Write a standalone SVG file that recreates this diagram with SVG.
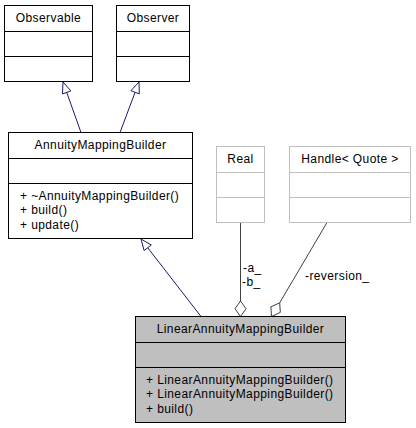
<svg xmlns="http://www.w3.org/2000/svg" width="416" height="428" viewBox="0 0 416 428">
<style>
text{font-family:"Liberation Sans",Arial,sans-serif;font-size:12px;letter-spacing:0.4px;fill:#000}
.t{text-anchor:middle}
.box{fill:#fff;stroke:#000;stroke-width:1}
.lite{fill:#fff;stroke:#bfbfbf;stroke-width:1}
.cur{fill:#bfbfbf;stroke:#000;stroke-width:1}
.dv{stroke:#000;stroke-width:1}
.dvl{stroke:#bfbfbf;stroke-width:1}
.inh{stroke:#191970;stroke-width:1;fill:none}
.inhh{stroke:#191970;stroke-width:1;fill:#fff}
.agg{stroke:#404040;stroke-width:1;fill:none}
.aggh{stroke:#404040;stroke-width:1;fill:#fff}
</style>
<rect width="416" height="428" fill="#fff"/>
<g id="connectors">
<line class="inh" x1="81" y1="132.5" x2="66.7" y2="92.4"/>
<polygon class="inhh" points="63,82 70.9,90.9 62.5,93.9"/>
<line class="inh" x1="120" y1="132.5" x2="135.1" y2="92.3"/>
<polygon class="inhh" points="139,82 139.3,93.9 130.9,90.7"/>
<line class="inh" x1="201" y1="316.5" x2="147.7" y2="247.7"/>
<polygon class="inhh" points="141,239 151.3,245 144.1,250.5"/>
<line class="agg" x1="240.5" y1="222.5" x2="240.5" y2="301"/>
<polygon class="aggh" points="240.5,301 246,308.7 240.5,316.5 235,308.7"/>
<line class="agg" x1="327" y1="222.5" x2="279.7" y2="302.8"/>
<polygon class="aggh" points="279.7,302.8 280.3,312.4 271.5,316.5 270.9,306.8"/>
<text x="243" y="272">-a_</text>
<text x="242" y="286">-b_</text>
<text x="305" y="280">-reversion_</text>
</g>
<g id="Observable">
<rect class="box" x="4.5" y="5.5" width="88" height="76"/>
<line class="dv" x1="4.5" y1="31.5" x2="92.5" y2="31.5"/>
<line class="dv" x1="4.5" y1="56.5" x2="92.5" y2="56.5"/>
<text class="t" x="48.5" y="21.5">Observable</text>
</g>
<g id="Observer">
<rect class="box" x="116.5" y="5.5" width="73" height="76"/>
<line class="dv" x1="116.5" y1="31.5" x2="189.5" y2="31.5"/>
<line class="dv" x1="116.5" y1="56.5" x2="189.5" y2="56.5"/>
<text class="t" x="153" y="21.5">Observer</text>
</g>
<g id="AnnuityMappingBuilder">
<rect class="box" x="8.5" y="132.5" width="184" height="106"/>
<line class="dv" x1="8.5" y1="158.5" x2="192.5" y2="158.5"/>
<line class="dv" x1="8.5" y1="183.5" x2="192.5" y2="183.5"/>
<text class="t" x="100.5" y="148.5">AnnuityMappingBuilder</text>
<text x="20" y="199.5">+ ~AnnuityMappingBuilder()</text>
<text x="20" y="214">+ build()</text>
<text x="20" y="228.5">+ update()</text>
</g>
<g id="Real">
<rect class="lite" x="216.5" y="146.5" width="48" height="76"/>
<line class="dvl" x1="216.5" y1="172.5" x2="264.5" y2="172.5"/>
<line class="dvl" x1="216.5" y1="197.5" x2="264.5" y2="197.5"/>
<text class="t" x="240.5" y="162.5">Real</text>
</g>
<g id="HandleQuote">
<rect class="lite" x="289.5" y="146.5" width="121" height="76"/>
<line class="dvl" x1="289.5" y1="172.5" x2="410.5" y2="172.5"/>
<line class="dvl" x1="289.5" y1="197.5" x2="410.5" y2="197.5"/>
<text class="t" x="350" y="162.5">Handle&lt; Quote &gt;</text>
</g>
<g id="LinearAnnuityMappingBuilder">
<rect class="cur" x="135.5" y="316.5" width="210" height="106"/>
<line class="dv" x1="135.5" y1="342.5" x2="345.5" y2="342.5"/>
<line class="dv" x1="135.5" y1="367.5" x2="345.5" y2="367.5"/>
<text class="t" x="240.5" y="332.5">LinearAnnuityMappingBuilder</text>
<text x="146" y="383.5">+ LinearAnnuityMappingBuilder()</text>
<text x="146" y="398">+ LinearAnnuityMappingBuilder()</text>
<text x="146" y="412.5">+ build()</text>
</g>
</svg>
